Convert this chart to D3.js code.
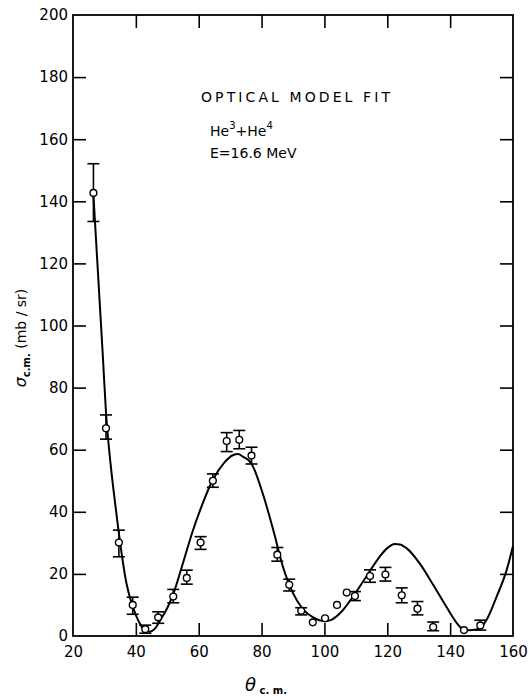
<!DOCTYPE html>
<html>
<head>
<meta charset="utf-8">
<script src="https://cdn.jsdelivr.net/npm/d3@7"></script>
<style>
    body { margin: 0; background: #fff; }
    svg { display: block; }
    .tick text { font-family: "DejaVu Sans", sans-serif; font-size: 15px; fill: #000; }
    .tick line { stroke: #000; stroke-width: 1.6; }
</style>
</head>
<body>
<div id="chart"></div>
<script>
// measured points: angle (deg), cross-section (mb/sr), error bar low/high
var theta = [26.5, 30.5, 34.6, 39.0, 43.0, 47.1, 51.9, 56.2, 60.6, 64.5, 68.9, 72.9, 76.8,
             85.0, 88.8, 92.6, 96.3, 100.2, 104.0, 107.1, 109.7, 114.5, 119.4, 124.6, 129.6, 134.6, 144.4, 149.6]
var sigma = [142.7, 66.9, 30.1, 10.0, 2.2, 6.0, 12.7, 18.7, 30.1, 50.0, 62.8, 63.2, 58.1,
             26.2, 16.5, 8.1, 4.4, 5.7, 10.0, 14.0, 12.9, 19.3, 19.8, 13.1, 8.8, 2.9, 1.9, 3.4]
var errLow = [133.5, 63.4, 25.5, 7.0, 0.9, 4.1, 10.7, 16.7, 27.9, 47.9, 59.4, 60.3, 55.4,
              24.1, 14.5, 6.8, null, null, null, null, 11.4, 17.3, 17.7, 10.7, 6.8, 1.7, null, 1.9]
var errHigh = [152.1, 71.2, 34.1, 12.5, 3.5, 7.8, 15.0, 21.2, 32.0, 52.2, 65.5, 66.2, 60.8,
               28.5, 18.3, 9.1, null, null, null, null, 14.3, 21.3, 22.1, 15.5, 11.1, 4.5, null, 5.1]

// optical model fit curve
var fitTheta = [26.5, 28, 29.5, 30.5, 32, 33.5, 35, 37, 39, 41, 43, 44.5, 46, 48, 50, 52, 55, 58, 61, 64.5,
                68, 71, 72.5, 74, 76.8, 80.5, 83.7, 86.8, 90, 93.2, 96.4, 100.1, 102.2, 105.4, 109.1, 113.3,
                117.6, 120, 122.4, 124, 126.1, 130.3, 134.6, 138.8, 143.1, 144.7, 147, 149.5, 151.6, 154.8, 158, 160]
var fitSigma = [142, 116, 90, 72, 55, 42, 30, 17, 9.5, 4.5, 1.8, 1.4, 2.3, 5.5, 9, 13.8, 23.5, 33.5, 42, 50.3,
                55.7, 58.3, 58.6, 57.8, 55.5, 45.5, 34.2, 22.3, 13.8, 8.6, 6.0, 4.8, 5.2, 7.8, 12.7, 19.1,
                25.6, 28.3, 29.6, 29.5, 28.3, 23.4, 16.5, 9.4, 3.0, 1.8, 1.9, 2.5, 5.2, 12.7, 21.3, 29]

var xTicks = [20, 40, 60, 80, 100, 120, 140, 160]
var yTicks = [0, 20, 40, 60, 80, 100, 120, 140, 160, 180, 200]

var width = 529,
    height = 696
var margin = {top: 15, right: 16, bottom: 60, left: 73}
var plotW = width - margin.left - margin.right,
    plotH = height - margin.top - margin.bottom

var svg = d3.select("#chart").append("svg")
    .attr("width", width)
    .attr("height", height)

var g = svg.append("g")
    .attr("transform", "translate(" + margin.left + "," + margin.top + ")")

var x = d3.scaleLinear().domain([20, 160]).range([0, plotW])
var y = d3.scaleLinear().domain([0, 200]).range([plotH, 0])

// axes with ticks pointing inward
var inner = function(t) { return t > 20 && t < 160 }
var innerY = function(t) { return t > 0 && t < 200 }

g.append("g")
    .attr("transform", "translate(0," + plotH + ")")
    .call(d3.axisBottom(x).tickValues(xTicks).tickSizeInner(0).tickSizeOuter(0).tickPadding(10))
    .call(function(a) {
        a.select(".domain").remove()
        a.selectAll(".tick").filter(inner).append("line").attr("y2", -13)
    })

g.append("g")
    .call(d3.axisTop(x).tickValues(xTicks.filter(inner)).tickSizeInner(-13).tickSizeOuter(0))
    .call(function(a) { a.select(".domain").remove(); a.selectAll("text").remove() })

g.append("g")
    .call(d3.axisLeft(y).tickValues(yTicks).tickSizeInner(0).tickSizeOuter(0).tickPadding(5))
    .call(function(a) {
        a.select(".domain").remove()
        a.selectAll(".tick").filter(innerY).append("line").attr("x2", 13)
    })

g.append("g")
    .attr("transform", "translate(" + plotW + ",0)")
    .call(d3.axisRight(y).tickValues(yTicks.filter(innerY)).tickSizeInner(-13).tickSizeOuter(0))
    .call(function(a) { a.select(".domain").remove(); a.selectAll("text").remove() })

// frame
g.append("rect")
    .attr("width", plotW)
    .attr("height", plotH)
    .attr("fill", "none")
    .attr("stroke", "#000")
    .attr("stroke-width", 1.8)

// fit curve
var fitData = fitTheta.map(function(t, i) { return [t, fitSigma[i]] })
var line = d3.line()
    .x(function(d) { return x(d[0]) })
    .y(function(d) { return y(d[1]) })
    .curve(d3.curveMonotoneX)

g.append("path")
    .datum(fitData)
    .attr("d", line)
    .attr("fill", "none")
    .attr("stroke", "#000")
    .attr("stroke-width", 2)

// data points with error bars
var pts = theta.map(function(t, i) {
    return {t: t, s: sigma[i], lo: errLow[i], hi: errHigh[i]}
})

var bars = g.append("g")
    .selectAll("g")
    .data(pts.filter(function(d) { return d.lo !== null }))
    .enter()
    .append("g")
    .attr("stroke", "#000")
    .attr("stroke-width", 1.6)

bars.append("line")
    .attr("x1", function(d) { return x(d.t) })
    .attr("x2", function(d) { return x(d.t) })
    .attr("y1", function(d) { return y(d.lo) })
    .attr("y2", function(d) { return y(d.hi) })
bars.append("line")
    .attr("x1", function(d) { return x(d.t) - 6 })
    .attr("x2", function(d) { return x(d.t) + 6 })
    .attr("y1", function(d) { return y(d.hi) })
    .attr("y2", function(d) { return y(d.hi) })
bars.append("line")
    .attr("x1", function(d) { return x(d.t) - 6 })
    .attr("x2", function(d) { return x(d.t) + 6 })
    .attr("y1", function(d) { return y(d.lo) })
    .attr("y2", function(d) { return y(d.lo) })

g.append("g")
    .selectAll("circle")
    .data(pts)
    .enter()
    .append("circle")
    .attr("cx", function(d) { return x(d.t) })
    .attr("cy", function(d) { return y(d.s) })
    .attr("r", 3.4)
    .attr("fill", "#fff")
    .attr("stroke", "#000")
    .attr("stroke-width", 1.4)

// annotation
var note = svg.append("g")
    .attr("font-family", "DejaVu Sans, sans-serif")
    .attr("fill", "#000")

note.append("text")
    .attr("x", 201).attr("y", 102)
    .attr("font-size", 14)
    .attr("textLength", 189)
    .attr("lengthAdjust", "spacing")
    .text("OPTICAL  MODEL  FIT")

var he = note.append("text")
    .attr("x", 210).attr("y", 136)
    .attr("font-size", 14)
he.append("tspan").text("He")
he.append("tspan").attr("dy", -7).attr("font-size", 10).text("3")
he.append("tspan").attr("dy", 7).text("+He")
he.append("tspan").attr("dy", -7).attr("font-size", 10).text("4")

note.append("text")
    .attr("x", 210).attr("y", 158)
    .attr("font-size", 14)
    .text("E=16.6 MeV")

// axis titles
var yt = svg.append("text")
    .attr("transform", "translate(26,338) rotate(-90)")
    .attr("text-anchor", "middle")
    .attr("font-family", "DejaVu Sans, sans-serif")
    .attr("font-size", 14)
yt.append("tspan").attr("font-style", "italic").attr("font-size", 16).text("σ")
yt.append("tspan").attr("dy", 4).attr("font-size", 10).attr("font-weight", "bold").text("c.m.")
yt.append("tspan").attr("dy", -4).text("  (mb / sr)")

var xt = svg.append("text")
    .attr("x", 245).attr("y", 691)
    .attr("font-family", "DejaVu Sans, sans-serif")
xt.append("tspan").attr("font-style", "italic").attr("font-size", 18).text("θ")
xt.append("tspan").attr("dy", 3).attr("font-size", 10).attr("font-weight", "bold").text(" c. m.")
</script>
</body>
</html>
